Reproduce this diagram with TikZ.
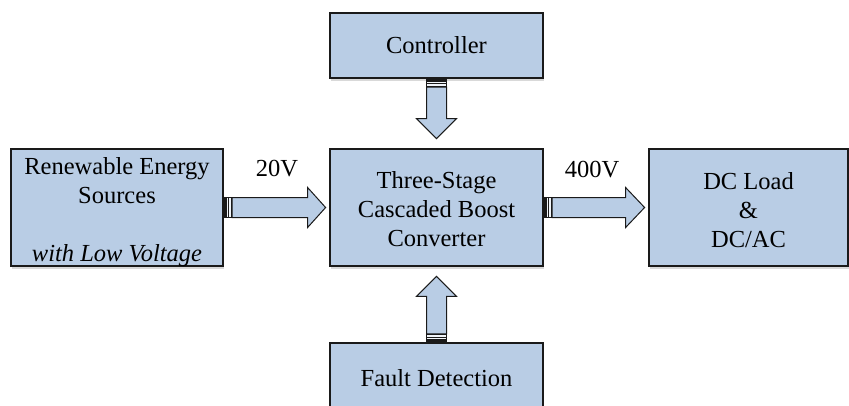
\documentclass[tikz,border=0pt]{standalone}
\usepackage{fontspec}
\setmainfont{Liberation Serif}
\usetikzlibrary{calc,shadows}
\definecolor{boxfill}{HTML}{B9CDE5}
\definecolor{edgecol}{HTML}{1A1A1A}
\newcommand{\blockarr}[4]{%
  \begin{scope}[shift={#1},rotate=#2]
    \fill[edgecol] (0,-10) rectangle (8.5,10);
    \draw[white!80!boxfill, line width=1pt] (3.6,-10) -- (3.6,10);
    \draw[white!80!boxfill, line width=1.6pt] (6.4,-10) -- (6.4,10);
    \filldraw[arrowbody] (8.5,-10) -- ({#3-#4},-10) -- ({#3-#4},-20) -- (#3,0) -- ({#3-#4},20) -- ({#3-#4},10) -- (8.5,10) -- cycle;
    \draw[edgecol, line width=1pt] (0,-10) -- (8.5,-10) (0,10) -- (8.5,10);
  \end{scope}}
\begin{document}
\begin{tikzpicture}[x=1pt,y=-1pt,
  blk/.style={draw=edgecol, fill=boxfill, line width=1.2pt, inner sep=0pt,
    drop shadow={shadow xshift=0.5pt, shadow yshift=-3pt, opacity=0.15, fill=black}},
  txt/.style={align=center, inner sep=0pt, font=\fontsize{24.5}{29}\selectfont},
  arrowbody/.style={draw=edgecol, fill=boxfill, line width=1pt, line join=miter},
  lbl/.style={font=\fontsize{24.5}{29}\selectfont, inner sep=0pt}]
\useasboundingbox (0,0) rectangle (849,405);
\clip (0,0) rectangle (849,405);
\fill[white] (0,0) rectangle (849,405);

\node[blk, minimum width=212pt, minimum height=117pt] (src) at (117,207.5) {};
\node[txt] (srctext) at ([yshift=-4.5pt]src.center)
  {Renewable Energy\\Sources\\\mbox{}\\\textit{with Low Voltage}};
\node[blk, minimum width=213pt, minimum height=117pt] (conv) at (436.5,207.5) {};
\node[txt] (convtext) at ([yshift=-2pt]conv.center)
  {Three-Stage\\Cascaded Boost\\Converter};
\node[blk, minimum width=213pt, minimum height=65pt] (ctrl) at (436.5,45.5) {};
\node[txt] (ctrltext) at (ctrl.center) {Controller};
\node[blk, minimum width=213pt, minimum height=65pt] (fault) at (436.5,375.5) {};
\node[txt] (faulttext) at ([yshift=-3pt]fault.center) {Fault Detection};
\node[blk, minimum width=199pt, minimum height=117pt] (load) at (748.5,207.5) {};
\node[txt] (loadtext) at ([yshift=-2.5pt]load.center) {DC Load\\\&\\DC/AC};

\blockarr{(src.east)}{0}{102}{18}
\blockarr{(conv.east)}{0}{101}{19}
\blockarr{(ctrl.south)}{-90}{60}{20}
\blockarr{(fault.north)}{90}{66}{20}

\node[lbl] (v20) at (277,169) {20V};
\node[lbl] (v400) at (592,170) {400V};
\end{tikzpicture}
\end{document}
